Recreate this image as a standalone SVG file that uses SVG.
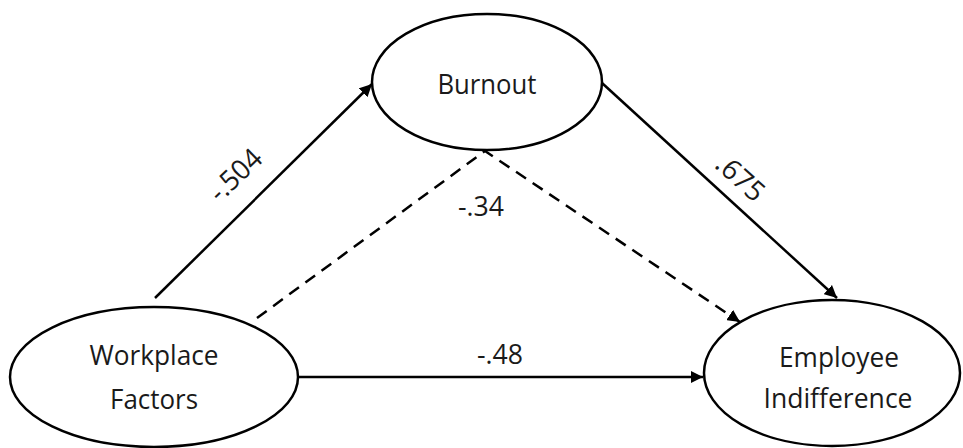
<svg xmlns="http://www.w3.org/2000/svg" width="963" height="448" viewBox="0 0 963 448">
<style>
.node{fill:#fff;stroke:#000;stroke-width:2.5}
.t{font-family:"Open Sans","Liberation Sans",sans-serif;font-size:28px;fill:#1a1a1a;text-anchor:middle}
.e{fill:none;stroke:#000;stroke-width:2.5}
.d{stroke-dasharray:12 8}
</style>
<defs>
<marker id="ah" viewBox="0 0 10 10" refX="10" refY="5" markerWidth="5" markerHeight="5" markerUnits="strokeWidth" orient="auto">
<path d="M0,0 L10,5 L0,10 z" fill="#000"/>
</marker>
</defs>
<g id="edges">
<line class="e" x1="155" y1="298" x2="372" y2="84" marker-end="url(#ah)"/>
<line class="e" x1="602" y1="83" x2="837" y2="298" marker-end="url(#ah)"/>
<line class="e" x1="298" y1="377" x2="703" y2="377" marker-end="url(#ah)"/>
<polyline class="e d" points="257,318 485,151 740,322" marker-end="url(#ah)"/>
<text class="t" transform="translate(242,182) rotate(-44)" textLength="62" lengthAdjust="spacingAndGlyphs">-.504</text>
<text class="t" transform="translate(734,185) rotate(42)" textLength="55" lengthAdjust="spacingAndGlyphs">.675</text>
<text class="t" x="481" y="216" textLength="46" lengthAdjust="spacingAndGlyphs">-.34</text>
<text class="t" x="500" y="364" textLength="46" lengthAdjust="spacingAndGlyphs">-.48</text>
</g>
<g id="burnout">
<ellipse class="node" cx="487" cy="82" rx="115" ry="68"/>
<text class="t" x="487" y="94" textLength="99" lengthAdjust="spacingAndGlyphs">Burnout</text>
</g>
<g id="workplace">
<ellipse class="node" cx="154" cy="377" rx="144" ry="70"/>
<text class="t" x="154" y="365" textLength="129" lengthAdjust="spacingAndGlyphs">Workplace</text>
<text class="t" x="154" y="409" textLength="88" lengthAdjust="spacingAndGlyphs">Factors</text>
</g>
<g id="employee">
<ellipse class="node" cx="832" cy="373" rx="128" ry="73"/>
<text class="t" x="839" y="367" textLength="120" lengthAdjust="spacingAndGlyphs">Employee</text>
<text class="t" x="838" y="408" textLength="149" lengthAdjust="spacingAndGlyphs">Indifference</text>
</g>
</svg>
